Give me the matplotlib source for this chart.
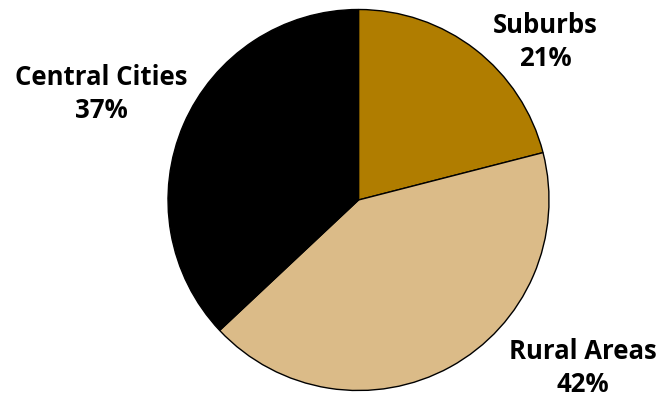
import matplotlib
matplotlib.use("Agg")
import matplotlib.pyplot as plt

# Share of population by area type
labels = ["Suburbs", "Rural Areas", "Central Cities"]
shares = [21, 42, 37]
colours = ["#B07D00", "#DBBB88", "#000000"]

W, H = 662, 398
fig = plt.figure(figsize=(W / 100, H / 100), dpi=100)
fig.patch.set_facecolor("white")

# axes sized so the pie sits centred at (358, 200) px with radius ~190 px
cx, cy, r = 358.5, 200, 190.5
ax = fig.add_axes([(cx - r) / W, (H - cy - r) / H, 2 * r / W, 2 * r / H])
ax.pie(shares, colors=colours, startangle=90, counterclock=False,
       wedgeprops=dict(edgecolor="black", linewidth=1.0), radius=1.0)
ax.set_xlim(-1.0, 1.0)
ax.set_ylim(-1.0, 1.0)
ax.set_aspect("auto")
ax.axis("off")

font = dict(family=["Open Sans", "DejaVu Sans"], fontweight="bold", fontsize=18.5,
            ha="center", va="center", color="black", linespacing=1.25)
label_pos = {
    "Suburbs": (545, 42),
    "Rural Areas": (583, 368),
    "Central Cities": (101, 94),
}
for name, val in zip(labels, shares):
    px, py = label_pos[name]
    fig.text(px / W, 1 - py / H, f"{name}\n{val}%", **font)

fig.savefig("out.png", dpi=100)
